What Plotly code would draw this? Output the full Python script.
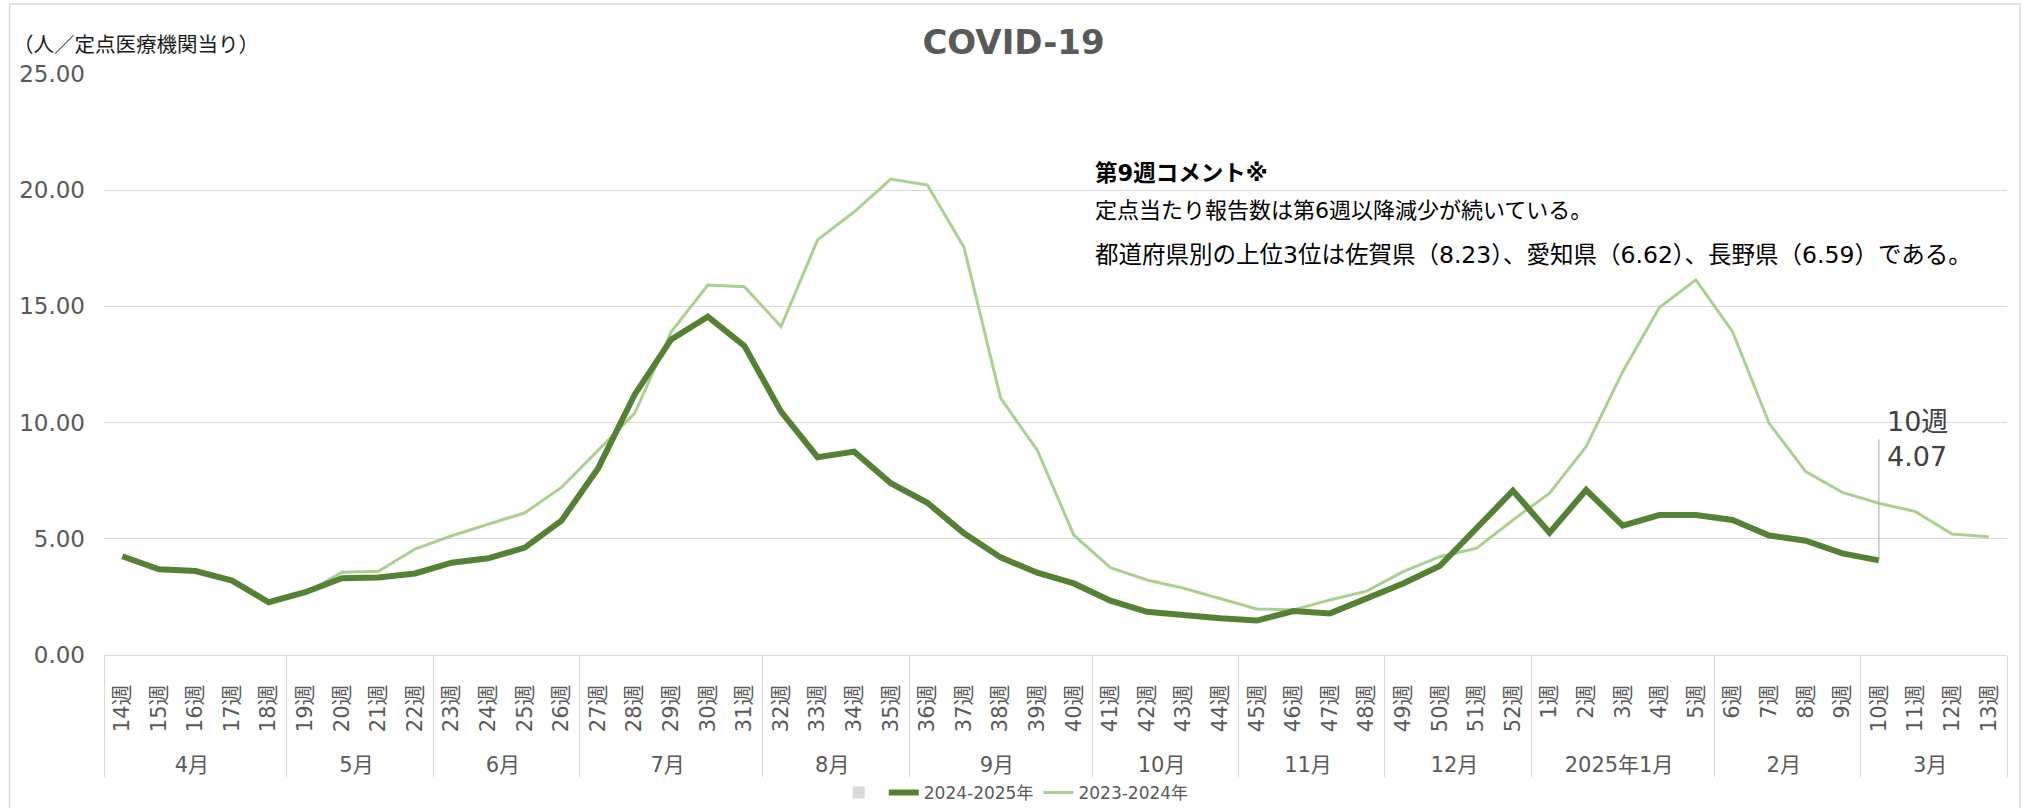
import plotly.graph_objects as go

# ---------------- data ----------------
week_labels = ["14週", "15週", "16週", "17週", "18週",
               "19週", "20週", "21週", "22週",
               "23週", "24週", "25週", "26週",
               "27週", "28週", "29週", "30週", "31週",
               "32週", "33週", "34週", "35週",
               "36週", "37週", "38週", "39週", "40週",
               "41週", "42週", "43週", "44週",
               "45週", "46週", "47週", "48週",
               "49週", "50週", "51週", "52週",
               "1週", "2週", "3週", "4週", "5週",
               "6週", "7週", "8週", "9週",
               "10週", "11週", "12週", "13週"]

month_labels = ["4月"] * 5 + ["5月"] * 4 + ["6月"] * 4 + ["7月"] * 5 + ["8月"] * 4 + \
               ["9月"] * 5 + ["10月"] * 4 + ["11月"] * 4 + ["12月"] * 4 + \
               ["2025年1月"] * 5 + ["2月"] * 4 + ["3月"] * 4

cases_2024_2025 = [4.25, 3.69, 3.61, 3.20, 2.27,
                   2.70, 3.30, 3.34, 3.51,
                   3.97, 4.16, 4.62, 5.78,
                   8.03, 11.20, 13.58, 14.56, 13.30,
                   10.47, 8.51, 8.75, 7.39,
                   6.55, 5.24, 4.20, 3.54, 3.08,
                   2.34, 1.86, 1.69, 1.58,
                   1.48, 1.89, 1.79, 2.44,
                   3.08, 3.83, 5.45, 7.07,
                   5.26, 7.10, 5.57, 6.02, 6.02,
                   5.81, 5.14, 4.92, 4.37,
                   4.07, None, None, None]

cases_2023_2024 = [None, None, None, None, None,
                   2.65, 3.56, 3.60, 4.56,
                   5.13, 5.62, 6.12, 7.21,
                   8.82, 10.40, 13.91, 15.92, 15.85,
                   14.13, 17.86, 19.07, 20.48,
                   20.22, 17.54, 11.05, 8.82, 5.16,
                   3.76, 3.23, 2.87, 2.44,
                   1.98, 1.94, 2.37, 2.75,
                   3.59, 4.23, 4.59, 5.81,
                   6.96, 8.96, 12.19, 14.95, 16.14,
                   13.91, 9.97, 7.89, 7.00,
                   6.53, 6.17, 5.21, 5.09]

series_names = ["2024-2025年", "2023-2024年"]
latest_week = "10週"

y_tick_values = [0, 5, 10, 15, 20, 25]
y_tick_text = ["0.00", "5.00", "10.00", "15.00", "20.00", "25.00"]

comment_title = "第9週コメント※"
comment_lines = ["定点当たり報告数は第6週以降減少が続いている。",
                 "都道府県別の上位3位は佐賀県（8.23）、愛知県（6.62）、長野県（6.59）である。"]
unit_label = "（人／定点医療機関当り）"
chart_title = "COVID-19"

# ---------------- layout helpers ----------------
W, H = 2027, 808
L, R, T, B = 103.5, 20, 74, 153
PW, PH = W - L - R, H - T - B


def px_x(x):
    return (x - L) / PW


def px_y(y):
    return (H - B - y) / PH


DARK = "#548235"
LIGHT = "#A9D18E"
GRID = "#D9D9D9"
TXT = "#595959"
LAT = "DejaVu Sans, Noto Sans CJK JP, sans-serif"
CJK = "Noto Sans CJK JP, DejaVu Sans, sans-serif"

x_multi = [month_labels, week_labels]

fig = go.Figure()

fig.add_trace(go.Bar(
    x=x_multi, y=[None] * len(week_labels), name="",
    marker_color=GRID, showlegend=True, legendrank=1, hoverinfo="skip"))

fig.add_trace(go.Scatter(
    x=x_multi, y=cases_2023_2024, name=series_names[1], mode="lines",
    line=dict(color=LIGHT, width=3), legendrank=3))

fig.add_trace(go.Scatter(
    x=x_multi, y=cases_2024_2025, name=series_names[0], mode="lines",
    line=dict(color=DARK, width=6), legendrank=2))

idx_latest = week_labels.index(latest_week)
val_latest = cases_2024_2025[idx_latest]

annotations = [
    # leader line from latest point
    dict(x=idx_latest, y=val_latest, xref="x", yref="y", text=" ",
         font=dict(size=1), showarrow=True, arrowhead=0, arrowwidth=1,
         arrowcolor="#A6A6A6", ax=0, ay=-123, standoff=0),
    # data label
    dict(x=idx_latest, y=px_y(439), xref="x", yref="paper",
         text=f"{latest_week}<br>{val_latest:.2f}", showarrow=False,
         xanchor="left", yanchor="middle", xshift=6, align="left",
         font=dict(family=LAT, size=27, color="#404040")),
    # unit label
    dict(x=px_x(10), y=px_y(43), xref="paper", yref="paper", text=unit_label,
         showarrow=False, xanchor="left", yanchor="middle",
         font=dict(family=CJK, size=20.5, color="#1a1a1a")),
    # comment
    dict(x=px_x(1093), y=px_y(173), xref="paper", yref="paper",
         text=f"<b>{comment_title}</b>", showarrow=False, xanchor="left",
         yanchor="middle", font=dict(family=LAT, size=22.5, color="#000000")),
    dict(x=px_x(1093), y=px_y(210), xref="paper", yref="paper",
         text=comment_lines[0], showarrow=False, xanchor="left",
         yanchor="middle", font=dict(family=LAT, size=22, color="#000000")),
    dict(x=px_x(1093), y=px_y(255), xref="paper", yref="paper",
         text=comment_lines[1], showarrow=False, xanchor="left",
         yanchor="middle", font=dict(family=LAT, size=23.5, color="#000000")),
]

fig.update_layout(
    width=W, height=H,
    margin=dict(l=L, r=R, t=T, b=B, pad=0, autoexpand=False),
    paper_bgcolor="white", plot_bgcolor="white",
    title=dict(text=f"<b>{chart_title}</b>", x=0.5, xref="container", xanchor="center",
               y=1 - 42 / H, yref="container", yanchor="middle",
               font=dict(family="DejaVu Sans, sans-serif", size=34, color=TXT)),
    showlegend=True,
    legend=dict(orientation="h", x=px_x(1016), xanchor="center",
                y=px_y(793), yanchor="middle",
                font=dict(family=LAT, size=17, color=TXT),
                bgcolor="rgba(0,0,0,0)", traceorder="normal"),
    annotations=annotations,
    shapes=[dict(type="rect", xref="paper", yref="paper",
                 x0=px_x(9), x1=px_x(2020), y0=px_y(830), y1=px_y(4),
                 line=dict(color=GRID, width=1.5), layer="below")],
    bargap=0.3,
)

fig.update_xaxes(
    type="multicategory", showgrid=False, showline=True, linecolor=GRID, linewidth=1,
    tickson="labels", ticks="outside", ticklen=20, tickcolor="rgba(255,255,255,0)",
    tickangle=-90, showdividers=True, dividercolor=GRID, dividerwidth=1,
    tickfont=dict(family=LAT, size=21, color=TXT),
    zeroline=False, automargin=False,
)

fig.update_yaxes(
    range=[0, 25], tickvals=y_tick_values, ticktext=y_tick_text,
    showgrid=True, gridcolor=GRID, gridwidth=1, zeroline=False, showline=False,
    ticks="", tickfont=dict(family=LAT, size=23, color=TXT), ticklabelstandoff=18,
    automargin=False,
)

fig.write_html("out.html", config={"displayModeBar": False},
               post_script="document.body.style.margin='0';")
